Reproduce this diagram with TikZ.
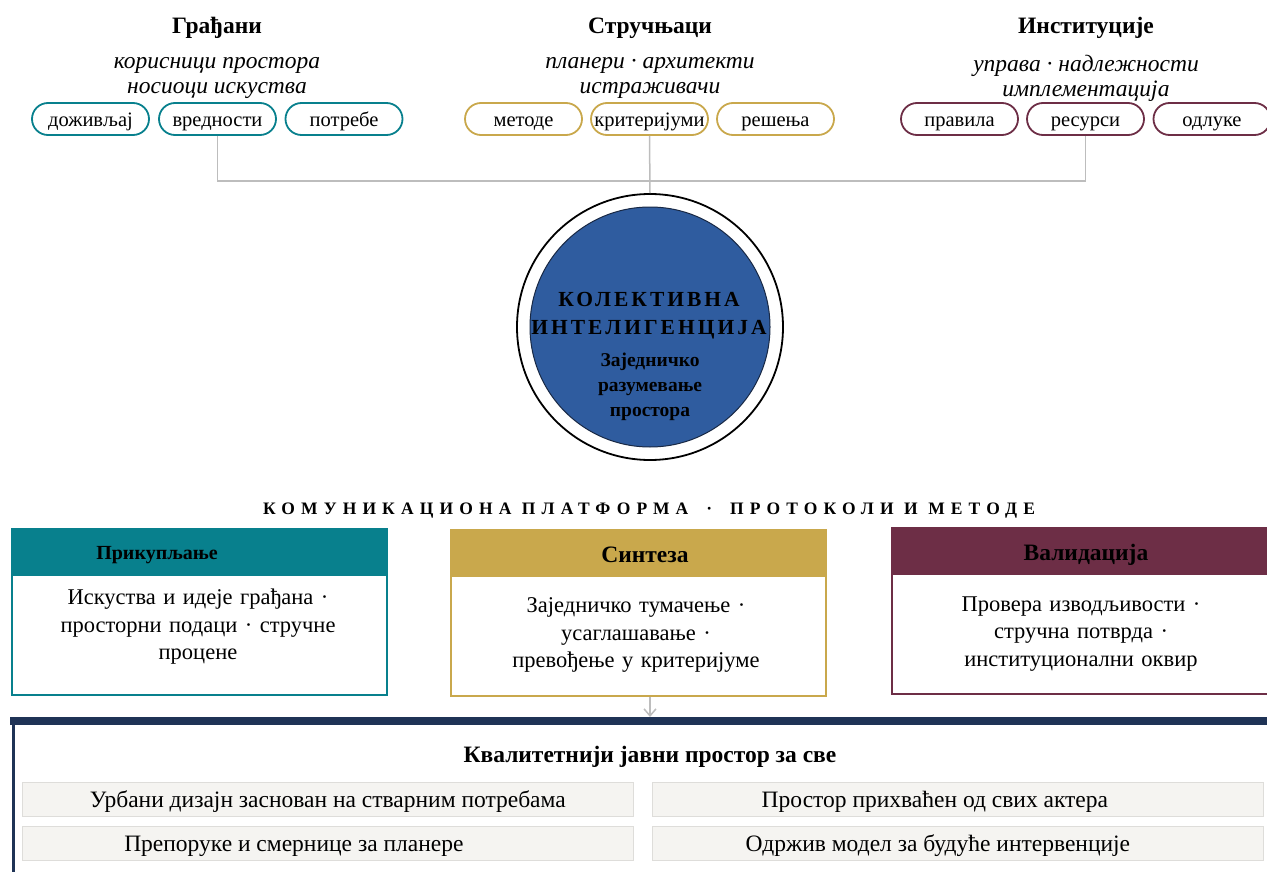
\documentclass[tikz,border=0pt]{standalone}
\usepackage{fontspec}
\setmainfont{Liberation Serif}
\usetikzlibrary{arrows.meta}
\definecolor{cteal}{HTML}{08808D}
\definecolor{cgold}{HTML}{C9A84C}
\definecolor{cmaroon}{HTML}{6D2E46}
\definecolor{cnavy}{HTML}{1F3356}
\definecolor{cblue}{HTML}{2F5C9F}
\definecolor{cgray}{HTML}{BDBDBD}
\definecolor{cpanel}{HTML}{F5F4F1}
\definecolor{cpanelb}{HTML}{DEDDDA}
\newcommand{\fsz}[2]{\fontsize{#1}{#2}\selectfont}
\tikzset{
  pill/.style={draw=#1, line width=1.8pt, rounded corners=16pt, minimum width=117pt, minimum height=32pt, inner sep=0pt, font=\fsz{20.5}{24}, text height=19pt, text depth=3pt},
  grouptitle/.style={font=\fsz{23.5}{28}\bfseries},
  groupsub/.style={font=\fsz{23.5}{25}\itshape, align=center},
  conn/.style={draw=cgray, line width=1.5pt},
  boxframe/.style={draw=#1, line width=1.6pt, minimum width=375pt, minimum height=166pt, anchor=north west, inner sep=0pt, fill=white},
  boxhead/.style={fill=#1, minimum height=48pt, anchor=north west, inner sep=0pt},
  boxbody/.style={font=\fsz{22.5}{27.5}, align=center, text width=370pt},
  panel/.style={draw=cpanelb, fill=cpanel, line width=0.8pt, minimum width=611pt, minimum height=34pt, anchor=north west, inner sep=0pt, font=\fsz{23.5}{28}, text height=20pt, text depth=4pt},
}
\begin{document}
\begin{tikzpicture}[x=1pt,y=-1pt]
\useasboundingbox (0,0) rectangle (1267,872);
% group titles
\node[grouptitle] (tg) at (217,28) {Грађани};
\node[grouptitle] (ts) at (650,28) {Стручњаци};
\node[grouptitle] (ti) at (1086,28) {Институције};
\node[groupsub] (sg) at (217,78) {корисници простора\\носиоци искуства};
\node[groupsub] (ss) at (650,78) {планери · архитекти\\истраживачи};
\node[groupsub] (si) at (1086,78) {управа · надлежности\\имплементација};
% pills
\node[pill=cteal] (p1) at (90.5,119) {доживљај};
\node[pill=cteal] (p2) at (217.5,119) {вредности};
\node[pill=cteal] (p3) at (344,119) {потребе};
\node[pill=cgold] (p4) at (523.5,119) {методе};
\node[pill=cgold] (p5) at (649.5,119) {критеријуми};
\node[pill=cgold] (p6) at (775.5,119) {решења};
\node[pill=cmaroon] (p7) at (959.5,119) {правила};
\node[pill=cmaroon] (p8) at (1085.5,119) {ресурси};
\node[pill=cmaroon] (p9) at (1212,119) {одлуке};
% circle
\node[circle, draw=black, line width=1.8pt, fill=white, minimum size=266pt, inner sep=0pt] (co) at (650,327) {};
\node[circle, draw=cnavy!80!black, line width=1pt, fill=cblue, minimum size=240pt, inner sep=0pt] (ci) at (650,327) {};
% connectors
\coordinate (j) at (650,181);
\draw[conn] (p2.south) |- (j) -| (p8.south);
\draw[conn] (p5.south) -- (co.north);
\node[font=\fsz{21.5}{28}\bfseries\addfontfeature{LetterSpace=14}, align=center] (ct) at (649,316) {КОЛЕКТИВНА\\ИНТЕЛИГЕНЦИЈА};
\node[font=\fsz{19.5}{25}\bfseries, align=center] (cs) at (650,387) {Заједничко\\разумевање\\простора};
% platform heading
\node[font=\fsz{17.5}{20}\bfseries\addfontfeature{LetterSpace=35}] (ph) at (649,511) {КОМУНИКАЦИОНА ПЛАТФОРМА\hspace{18pt}·\hspace{18pt}ПРОТОКОЛИ И МЕТОДЕ};
% boxes
\node[boxframe=cteal] (b1) at (11,528) {};
\node[boxhead=cteal, minimum width=375pt] (h1) at (11,528) {};
\node[font=\fsz{20}{24}\bfseries] (h1t) at (157,555) {Прикупљање};
\node[boxbody] (b1t) at (198,627) {Искуства и идеје грађана ·\\просторни подаци · стручне\\процене};
\node[boxframe=cgold] (b2) at (450,529) {};
\node[boxhead=cgold, minimum width=375pt] (h2) at (450,529) {};
\node[font=\fsz{23.5}{28}\bfseries] (h2t) at (645,555) {Синтеза};
\node[boxbody] (b2t) at (636,635) {Заједничко тумачење ·\\усаглашавање ·\\превођење у критеријуме};
\node[boxframe=cmaroon, minimum width=380pt] (b3) at (891,527) {};
\node[boxhead=cmaroon, minimum width=380pt] (h3) at (891,527) {};
\node[font=\fsz{23.5}{28}\bfseries] (h3t) at (1086,555) {Валидација};
\node[boxbody] (b3t) at (1081,634) {Провера изводљивости ·\\стручна потврда ·\\институционални оквир};
% bottom
\node[draw=cnavy, line width=3pt, fill=white, minimum width=1262pt, minimum height=160pt, anchor=north west, inner sep=0pt] (bb) at (11.5,719.5) {};
\fill[cnavy] (10,717) rectangle (1272,725);
\coordinate (bbtop) at (650,717);
\draw[conn, -{Straight Barb[length=7pt,width=12pt]}] (b2.south -| bbtop) -- (bbtop);
\node[font=\fsz{23.5}{28}\bfseries] (bt) at (650,757) {Квалитетнији јавни простор за све};
\node[panel] (q1) at (22,782) {Урбани дизајн заснован на стварним потребама};
\node[panel] (q2) at (652,782) {\hspace{-46pt}Простор прихваћен од свих актера};
\node[panel] (q3) at (22,826) {\hspace{-68pt}Препоруке и смернице за планере};
\node[panel] (q4) at (652,826) {\hspace{-40pt}Одржив модел за будуће интервенције};
\end{tikzpicture}
\end{document}
